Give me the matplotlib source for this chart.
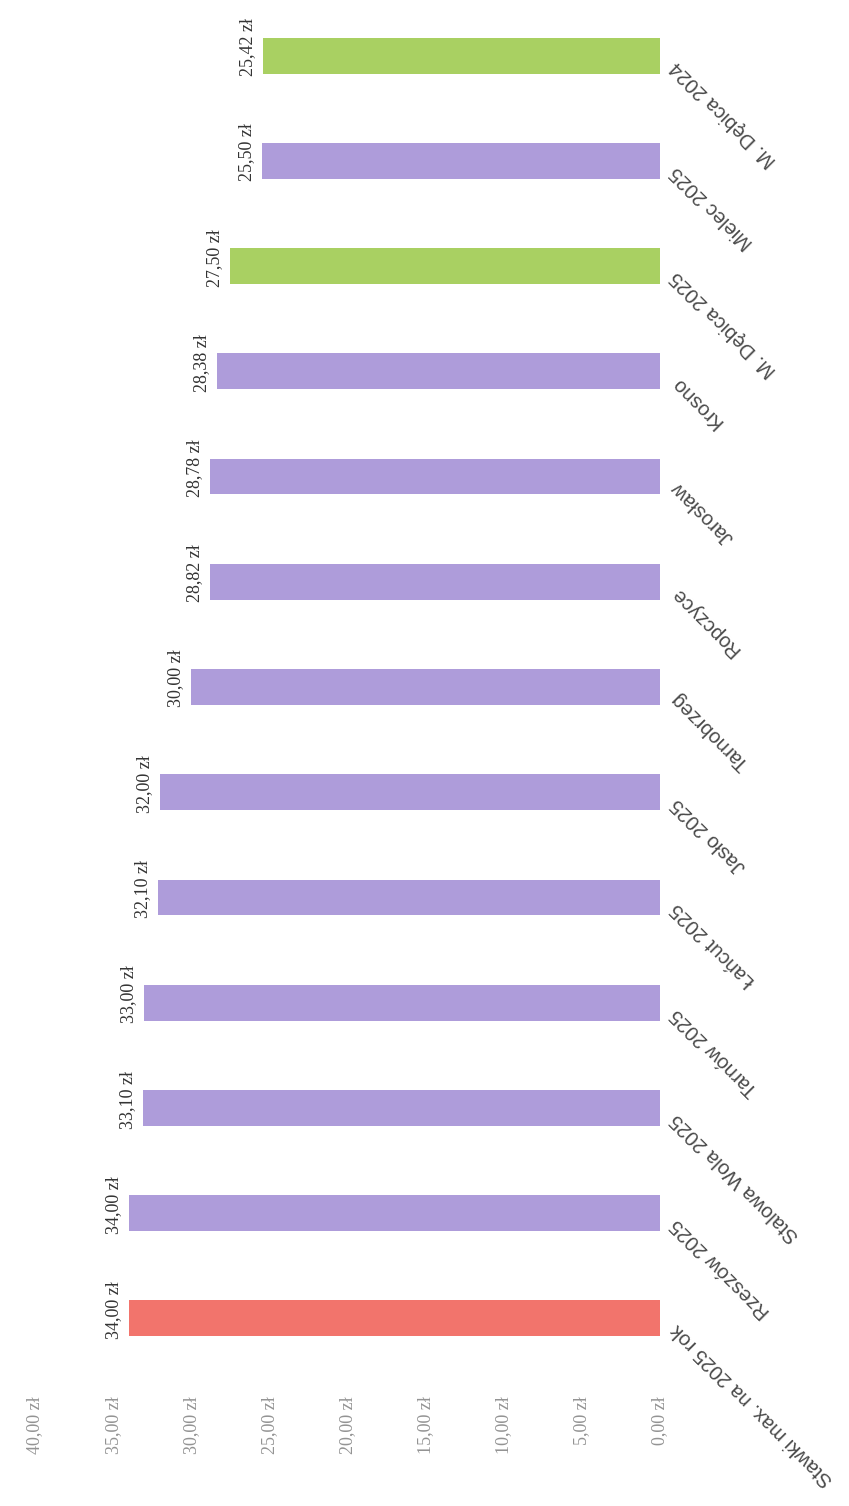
import numpy as np
import matplotlib
matplotlib.use('Agg')
import matplotlib.pyplot as plt

# categories from the bottom bar to the top bar
categories = ["Stawki max. na 2025 rok", "Rzeszów 2025", "Stalowa Wola 2025",
              "Tarnów 2025", "Łańcut 2025", "Jasło 2025", "Tarnobrzeg",
              "Ropczyce", "Jarosław", "Krosno", "M. Dębica 2025",
              "Mielec 2025", "M. Dębica 2024"]
values = [34.00, 34.00, 33.10, 33.00, 32.10, 32.00, 30.00,
          28.82, 28.78, 28.38, 27.50, 25.50, 25.42]
groups = ["max", "city", "city", "city", "city", "city", "city",
          "city", "city", "city", "debica", "city", "debica"]
tick_values = [0, 5, 10, 15, 20, 25, 30, 35, 40]

palette = {"max": "#F2746C", "city": "#AE9CDA", "debica": "#A9D062"}


def zl(v):
	return ("%.2f" % v).replace(".", ",") + " zł"


fig = plt.figure(figsize=(8.49, 15.06), dpi=100)
ax = fig.add_axes([35 / 849, 1 - 1371 / 1506, 625 / 849, 1368 / 1506])

y = np.arange(len(categories))
ax.barh(y, values, height=0.34, color=[palette[g] for g in groups])

ax.set_xlim(40, 0)
ax.set_ylim(-0.5, len(categories) - 0.5)

ax.set_xticks(tick_values)
ax.set_xticklabels([zl(t) for t in tick_values], rotation=90,
                   fontfamily="Liberation Serif", fontsize=13, color="#939393")
ax.tick_params(axis="x", length=0, pad=18)
ax.set_yticks([])
for s in ax.spines.values():
	s.set_visible(False)

for yi, v in zip(y, values):
	ax.annotate(zl(v), xy=(v, yi), xytext=(-5, 6), textcoords="offset points",
	            rotation=90, ha="right", va="center",
	            fontfamily="Liberation Serif", fontsize=13, color="#333333")

for yi, c in zip(y, categories):
	ax.annotate(c, xy=(0, yi), xytext=(10, -6), textcoords="offset points",
	            rotation=135, rotation_mode="anchor", ha="right", va="center",
	            fontfamily="Liberation Sans", fontsize=14.5, color="#4a4a4a")

plt.savefig("out.png", dpi=100)
